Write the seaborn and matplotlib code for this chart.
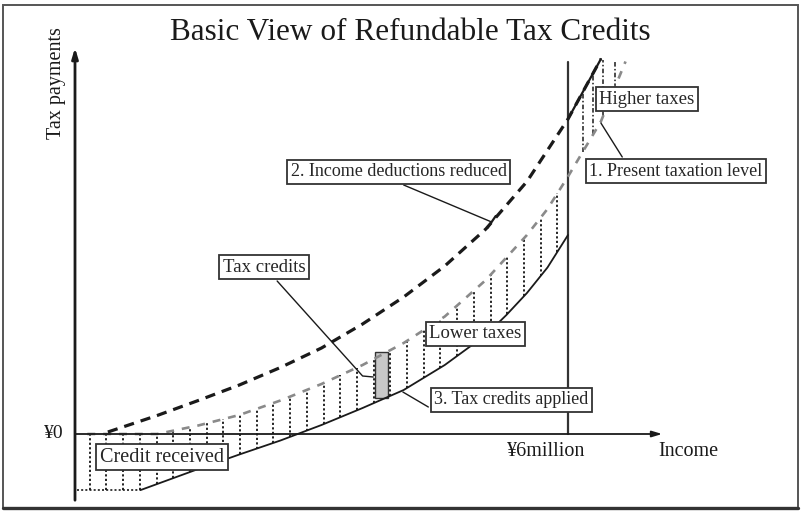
import numpy as np
import pandas as pd
import matplotlib
matplotlib.use("Agg")
import matplotlib.pyplot as plt
from matplotlib.patches import Rectangle
import seaborn as sns

# ---------------- data (income in million yen, tax in arbitrary units) ----------------
# 1. Present taxation level (grey dashed)
present_x = [0.15, 0.5, 1.0, 1.5, 2.0, 2.5, 3.0, 3.5, 4.0, 4.5, 5.0, 5.5, 5.75, 6.0, 6.2, 6.4, 6.7]
present_y = [0.0, 0.0, 0.0, 0.17, 0.38, 0.67, 1.0, 1.38, 1.82, 2.35, 3.08, 3.98, 4.5, 5.15, 5.7, 6.25, 7.45]

# 2. Income deductions reduced (black dashed)
deduct_x = [0.4, 1.0, 1.5, 2.0, 2.5, 3.0, 3.5, 4.0, 4.5, 5.0, 5.5, 6.0, 6.4]
deduct_y = [0.04, 0.37, 0.67, 0.98, 1.33, 1.72, 2.2, 2.74, 3.36, 4.1, 5.05, 6.3, 7.5]

# 3. Tax credits applied (solid)
applied_x = [0.8, 1.5, 2.0, 2.5, 3.0, 3.5, 4.0, 4.5, 5.0, 5.25, 5.5, 5.75, 6.0]
applied_y = [-1.12, -0.7, -0.41, -0.13, 0.18, 0.52, 0.88, 1.38, 1.98, 2.38, 2.82, 3.33, 3.98]

# maximum credit received (flat floor)
floor_x = [0.03, 0.8]
floor_y = [-1.12, -1.12]

threshold_income = 6.0          # ¥6million
threshold_top = 7.44
credit_x, credit_bottom, credit_top = 3.73, 0.72, 1.64

higher_hatch_x = [6.18, 6.31, 6.43, 6.57]
hatch_cap = 7.48

title = "Basic View of Refundable Tax Credits"
y_label = "Tax payments"
x_label = "Income"
tick_zero = "¥0"
tick_6m = "¥6million"

# ---------------- figure ----------------
sns.set_theme(style="white")
plt.rcParams["font.family"] = ["Liberation Serif", "DejaVu Serif"]

W, H = 801, 514
fig = plt.figure(figsize=(W / 100, H / 100), dpi=100)
ax = fig.add_axes([0, 0, 1, 1])
ax.set_axis_off()
px_x = 82.17
px_y = 50.0
ax.set_xlim(-75 / px_x, (W - 75) / px_x)
ax.set_ylim((434 - H) / px_y, 434 / px_y)

ink = "#1a1a1a"

# axes with arrows
ax.annotate("", xy=(0, 7.78), xytext=(0, -1.38),
            arrowprops=dict(arrowstyle="-|>,head_length=0.5,head_width=0.15", color=ink, lw=2.0))
ax.annotate("", xy=(7.18, 0), xytext=(-0.02, 0),
            arrowprops=dict(arrowstyle="-|>,head_length=0.5,head_width=0.15", color=ink, lw=1.3))

# ¥6million vertical line
ax.plot([threshold_income, threshold_income], [0, threshold_top], color="#333333", lw=1.6)

# hatches: lower taxes / credit received
hx = np.linspace(0.18, 5.87, 29)
top = np.interp(hx, present_x, present_y)
bot = np.interp(hx, applied_x, applied_y)
ax.vlines(hx, bot, top, colors="#111111", linestyles=(0, (1.2, 1.3)), lw=1.3)

# hatches: higher taxes
hh = np.array(higher_hatch_x)
htop = np.minimum(np.interp(hh, deduct_x, deduct_y), hatch_cap)
hbot = np.interp(hh, present_x, present_y)
ax.vlines(hh, hbot, htop, colors=ink, linestyles=(0, (3, 1.5, 1, 1.5)), lw=1.1)

# tax credit bar
ax.bar(credit_x, credit_top - credit_bottom, bottom=credit_bottom, width=0.16,
       color="#c8c8c8", edgecolor="#333333", lw=1.0)

# curves
sns.lineplot(x=present_x, y=present_y, ax=ax, color="#8a8a8a", lw=1.9,
             linestyle=(0, (3.0, 3.0)))
sns.lineplot(x=deduct_x, y=deduct_y, ax=ax, color=ink, lw=2.3,
             linestyle=(0, (3.2, 2.2)))
sns.lineplot(x=applied_x, y=applied_y, ax=ax, color=ink, lw=1.3)
sns.lineplot(x=floor_x, y=floor_y, ax=ax, color=ink, lw=1.2, linestyle=(0, (1.2, 1.3)))
# above ¥6million taxes follow the reduced-deduction line
above = [i for i, v in enumerate(deduct_x) if v >= threshold_income]
sns.lineplot(x=[deduct_x[i] for i in above], y=[deduct_y[i] for i in above], ax=ax,
             color=ink, lw=1.6)

# leader lines
lead = dict(color=ink, lw=1.0)
ax.plot([6.66, 6.40], [5.54, 6.22], **lead)
ax.plot([4.0, 5.07], [4.98, 4.24], **lead)
ax.plot([5.02, 5.12], [4.12, 4.36], color=ink, lw=1.6)
ax.plot([2.46, 3.5, 3.63], [3.06, 1.16, 1.14], **lead)
ax.plot([4.30, 3.99], [0.54, 0.84], **lead)

# boxed labels
box = dict(boxstyle="square,pad=0.18", fc="white", ec="#333333", lw=1.3)
fs = 13.5
ax.text(6.96, 6.70, "Higher taxes", ha="center", va="center", fontsize=fs, bbox=box)
ax.text(7.31, 5.26, "1. Present taxation level", ha="center", va="center", fontsize=13, bbox=box)
ax.text(3.94, 5.24, "2. Income deductions reduced", ha="center", va="center", fontsize=13, bbox=box)
ax.text(2.30, 3.34, "Tax credits", ha="center", va="center", fontsize=fs, bbox=box)
ax.text(4.87, 2.00, "Lower taxes", ha="center", va="center", fontsize=fs, bbox=box)
ax.text(5.31, 0.68, "3. Tax credits applied", ha="center", va="center", fontsize=13, bbox=box)
ax.text(1.06, -0.46, "Credit received", ha="center", va="center", fontsize=14.5, bbox=box)

# axis labels
ax.text(-0.134, 0.0, tick_zero, ha="right", va="center", fontsize=14, color=ink)
ax.text(5.73, -0.36, tick_6m, ha="center", va="center", fontsize=14.5, color=ink)
ax.text(7.47, -0.36, x_label, ha="center", va="center", fontsize=14.5, color=ink)
ax.text(-0.23, 7.02, y_label, ha="center", va="center", rotation=90, fontsize=14.5, color=ink)

fig.text(410 / W, 1 - 33 / H, title, ha="center", va="center", fontsize=22.5, color=ink)

# outer frame
fig.patches.append(Rectangle((3 / W, 6 / H), 795 / W, 503 / H, transform=fig.transFigure,
                             fill=False, ec="#555555", lw=1.4))
fig.add_artist(plt.Line2D([3 / W, 798 / W], [6 / H, 6 / H], transform=fig.transFigure,
                          color="#333333", lw=2.4))

fig.savefig("out.png", dpi=100)
